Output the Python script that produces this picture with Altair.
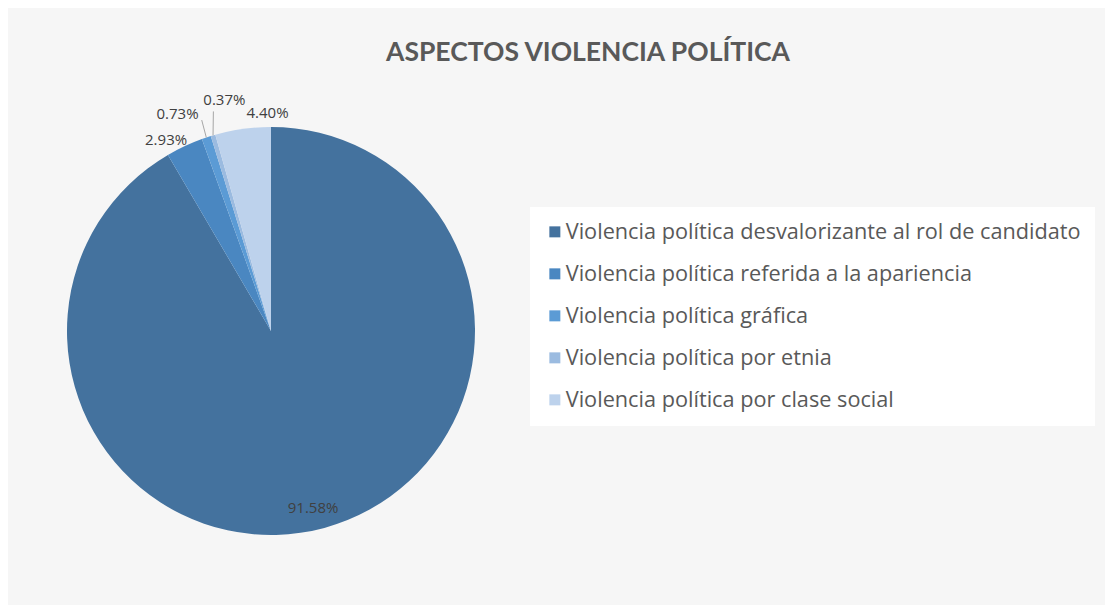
import math
import altair as alt
import pandas as pd

# ---- data ----
categories = [
    "Violencia política desvalorizante al rol de candidato",
    "Violencia política referida a la apariencia",
    "Violencia política gráfica",
    "Violencia política por etnia",
    "Violencia política por clase social",
]
values = [91.58, 2.93, 0.73, 0.37, 4.40]
labels = ["91.58%", "2.93%", "0.73%", "0.37%", "4.40%"]
colors = ["#44729E", "#4A87C1", "#5B9BD5", "#9BBBE0", "#BDD2EC"]

# ---- label layout (style, kept apart from the data) ----
label_nudge_deg = [1.8, -3.7, -4.85, 5.1, 7.0]
label_radius = [182, 218, 236, 236, 218]
leader_end = [None, None, (222, 0.3), (227, 1.8), None]  # (radius, angle nudge deg)

W = H = 408
R = W / 2
cx, cy = W / 2, H / 2

total = sum(values)
rows, lead_rows = [], []
cum = 0.0
for i, (c, v, t) in enumerate(zip(categories, values, labels)):
    mid = (cum + v / 2) / total * 2 * math.pi
    cum += v
    a = mid + math.radians(label_nudge_deg[i])
    r = label_radius[i]
    rows.append({"cat": c, "value": v, "label": t, "idx": i,
                 "lx": cx + r * math.sin(a), "ly": cy - r * math.cos(a)})
    if leader_end[i]:
        er, en = leader_end[i]
        ea = mid + math.radians(en)
        lead_rows.append({"x": cx + R * math.sin(mid), "y": cy - R * math.cos(mid),
                          "x2": cx + er * math.sin(ea), "y2": cy - er * math.cos(ea)})

df = pd.DataFrame(rows)
lead = pd.DataFrame(lead_rows)

color_scale = alt.Scale(domain=categories, range=colors)

pie = alt.Chart(df).mark_arc().encode(
    theta=alt.Theta("value:Q", stack=True),
    order=alt.Order("idx:Q"),
    color=alt.Color(
        "cat:N", scale=color_scale, sort=categories,
        legend=alt.Legend(
            orient="none", legendX=463, legendY=80, title=None,
            fillColor="white", padding=14, symbolType="square",
            symbolSize=121, symbolStrokeWidth=0, labelFont="Open Sans",
            labelFontSize=21.7, labelColor="#595959", rowPadding=19,
            labelOffset=0, labelLimit=0,
        ),
    ),
)

leaders = alt.Chart(lead).mark_rule(color="#A6A6A6", strokeWidth=1).encode(
    x=alt.X("x:Q", scale=None, axis=None),
    y=alt.Y("y:Q", scale=None, axis=None),
    x2="x2:Q",
    y2="y2:Q",
)

text = alt.Chart(df).mark_text(font="Open Sans", fontSize=15, color="#404040",
                               align="center", baseline="middle").encode(
    x=alt.X("lx:Q", scale=None, axis=None),
    y=alt.Y("ly:Q", scale=None, axis=None),
    text="label:N",
)

chart = alt.layer(pie, leaders, text).properties(
    width=W, height=H,
    title=alt.TitleParams(
        "ASPECTOS VIOLENCIA POLÍTICA", font="Lato", fontSize=26.5,
        fontWeight="bold", color="#595959", anchor="middle", frame="group",
        dx=317, offset=26,
    ),
    autosize=alt.AutoSizeParams(type="none"),
    padding={"left": 59, "top": 119, "right": 630, "bottom": 70},
    background="#F6F6F6",
).configure_view(stroke=None)

chart.save("out.html", embed_options={"renderer": "svg", "actions": False})
